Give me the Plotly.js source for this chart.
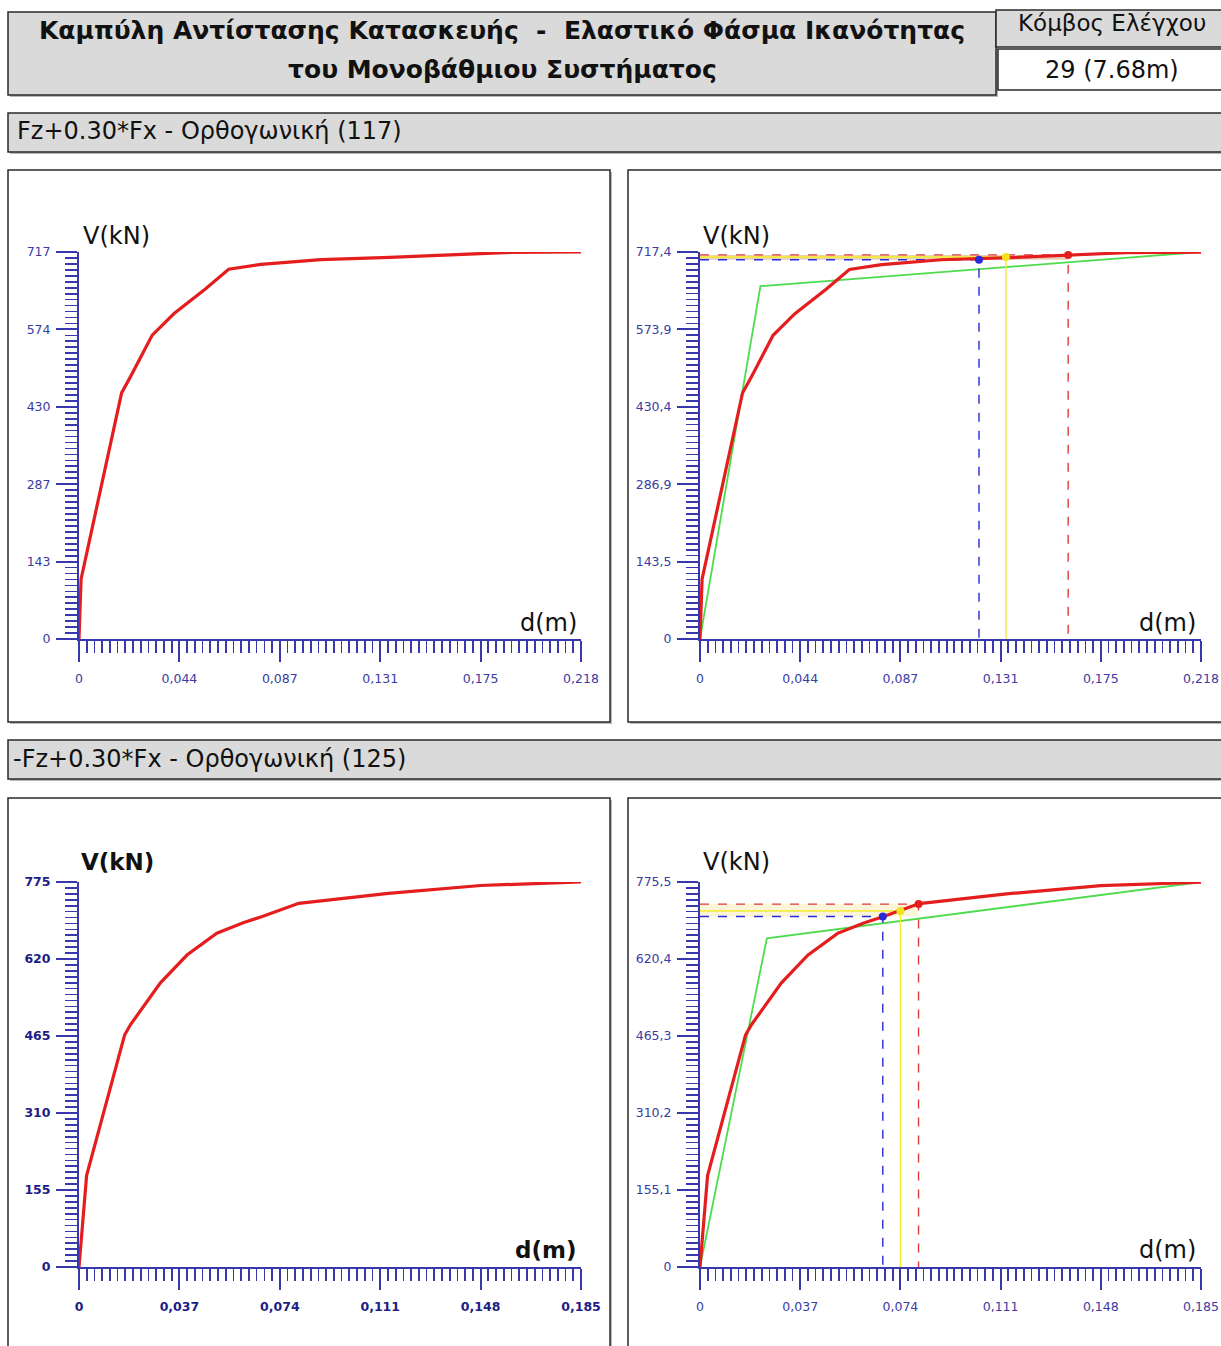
<!DOCTYPE html>
<html>
<head>
<meta charset="utf-8">
<script src="https://cdn.plot.ly/plotly-3.0.1.min.js"></script>
<style>
  html, body { margin: 0; padding: 0; background: #ffffff; }
  #chart { width: 1221px; height: 1346px; }
</style>
</head>
<body>
<div id="chart"></div>
<script>
// ---------------- DATA ----------------
// Load case 1: Fz+0.30*Fx - Ορθογωνική (117)
const capD1 = [0, 0.0009, 0.0185, 0.0225, 0.0318, 0.0413, 0.0550, 0.0650, 0.0790, 0.1050, 0.1350, 0.1600, 0.1850, 0.2180];
const capV1 = [0, 111, 456, 487, 563, 603, 649, 685, 694, 703, 707, 711, 716, 717];
const bilD1 = [0, 0.0263, 0.2180];
const bilV1 = [0, 654, 717.4];
const tgtD1 = [0.1214, 0.1331, 0.1602];   // blue, yellow, red target points
const tgtV1 = [703, 708, 712];

// Load case 2: -Fz+0.30*Fx - Ορθογωνική (125)
const capD2 = [0, 0.0028, 0.0168, 0.0190, 0.0300, 0.0398, 0.0508, 0.0605, 0.0678, 0.0810, 0.1140, 0.1480, 0.1850];
const capV2 = [0, 184, 467, 488, 572, 628, 672, 693, 706, 732, 752, 768, 775];
const bilD2 = [0, 0.0247, 0.1850];
const bilV2 = [0, 662, 775.5];
const tgtD2 = [0.0675, 0.0740, 0.0807];
const tgtV2 = [706, 717, 731];

// Axis ranges and tick labels
const xMax1 = 0.218, yMaxL1 = 717, yMaxR1 = 717.4;
const xMax2 = 0.185, yMaxL2 = 775, yMaxR2 = 775.5;
const xTickVals1 = [0, 0.0436, 0.0872, 0.1308, 0.1744, 0.218];
const xTickText1 = ["0", "0,044", "0,087", "0,131", "0,175", "0,218"];
const yTickValsL1 = [0, 143.4, 286.8, 430.2, 573.6, 717];
const yTickTextL1 = ["0", "143", "287", "430", "574", "717"];
const yTickValsR1 = [0, 143.5, 286.9, 430.4, 573.9, 717.4];
const yTickTextR1 = ["0", "143,5", "286,9", "430,4", "573,9", "717,4"];
const xTickVals2 = [0, 0.037, 0.074, 0.111, 0.148, 0.185];
const xTickText2 = ["0", "0,037", "0,074", "0,111", "0,148", "0,185"];
const yTickValsL2 = [0, 155, 310, 465, 620, 775];
const yTickTextL2 = ["0", "155", "310", "465", "620", "775"];
const yTickValsR2 = [0, 155.1, 310.2, 465.3, 620.4, 775.5];
const yTickTextR2 = ["0", "155,1", "310,2", "465,3", "620,4", "775,5"];

// Texts
const mainTitle1 = "Καμπύλη Αντίστασης Κατασκευής\u00a0\u00a0-\u00a0\u00a0Ελαστικό Φάσμα Ικανότητας";
const mainTitle2 = "του Μονοβάθμιου Συστήματος";
const nodeLabel = "Κόμβος Ελέγχου";
const nodeValue = "29 (7.68m)";
const section1 = "Fz+0.30*Fx - Ορθογωνική (117)";
const section2 = "-Fz+0.30*Fx - Ορθογωνική (125)";

// ---------------- STYLE ----------------
const W = 1221, H = 1346;
const px = v => v / W;
const py = v => 1 - v / H;
const AX = '#3838ac';
const RED = '#e41e1e', GREEN = '#4cdc4c', BLUE = '#2a2ad6', YEL = '#f2ee2a', REDL = '#e03a3a';

function axisBase(maxv, vals, text, bold, standoff) {
  return {
    range: [0, maxv], showgrid: false, zeroline: false,
    showline: true, linecolor: AX, linewidth: 2,
    ticks: 'outside', ticklen: 21, tickwidth: 2, tickcolor: AX,
    tickmode: 'array', tickvals: vals, ticktext: text,
    ticklabelstandoff: standoff,
    tickfont: { family: 'DejaVu Sans', size: 12.5, color: bold ? '#1d1d86' : '#3b3ba2', weight: bold ? 'bold' : 'normal' },
    minor: { tickmode: 'linear', tick0: 0, dtick: (vals[1] - vals[0]) / 13, ticks: 'outside', ticklen: 12, tickwidth: 1.7, tickcolor: AX, showgrid: false },
    fixedrange: true
  };
}
function xAxis(domain, anchor, maxv, vals, text, bold) {
  return Object.assign(axisBase(maxv, vals, text, bold, 6), { domain: domain, anchor: anchor });
}
function yAxis(domain, anchor, maxv, vals, text, bold) {
  return Object.assign(axisBase(maxv, vals, text, bold, 3), { domain: domain, anchor: anchor });
}

const dxL = [px(79), px(581)], dxR = [px(700), px(1201)];
const dyT = [py(639), py(252)], dyB = [py(1267), py(882)];

// ---------------- TRACES ----------------
const traces = [];
function capTrace(xa, ya, d, v) {
  return { type: 'scatter', mode: 'lines', x: d, y: v, xaxis: xa, yaxis: ya, cliponaxis: false,
           line: { color: RED, width: 3.2 }, hoverinfo: 'skip' };
}
function bilTrace(xa, ya, d, v) {
  return { type: 'scatter', mode: 'lines', x: d, y: v, xaxis: xa, yaxis: ya, cliponaxis: false,
           line: { color: GREEN, width: 1.8 }, hoverinfo: 'skip' };
}
function targets(xa, ya, d, v, bandColor) {
  const cols = [BLUE, YEL, REDL];
  const dashes = ['dash', 'solid', 'dash'];
  const out = [];
  out.push({ type: 'scatter', mode: 'lines', xaxis: xa, yaxis: ya, cliponaxis: false,
             x: [0, d[2], d[2], 0, 0], y: [v[0], v[0], v[2], v[2], v[0]],
             fill: 'toself', fillcolor: bandColor, line: { width: 0 }, hoverinfo: 'skip' });
  for (let i = 0; i < 3; i++) {
    out.push({ type: 'scatter', mode: 'lines', xaxis: xa, yaxis: ya, cliponaxis: false,
               x: [0, d[i], d[i]], y: [v[i], v[i], 0],
               line: { color: cols[i], width: 1.4, dash: dashes[i] }, hoverinfo: 'skip' });
  }
  return out;
}
function dots(xa, ya, d, v) {
  return { type: 'scatter', mode: 'markers', xaxis: xa, yaxis: ya, cliponaxis: false, x: d, y: v,
           marker: { color: [BLUE, '#f4e21c', RED], size: 8 }, hoverinfo: 'skip' };
}

traces.push(capTrace('x', 'y', capD1, capV1));
traces.push(bilTrace('x2', 'y2', bilD1, bilV1));
traces.push(...targets('x2', 'y2', tgtD1, tgtV1, 'rgba(214,170,120,0.55)'));
traces.push(capTrace('x2', 'y2', capD1, capV1));
traces.push(dots('x2', 'y2', tgtD1, tgtV1));
traces.push(capTrace('x3', 'y3', capD2, capV2));
traces.push(bilTrace('x4', 'y4', bilD2, bilV2));
traces.push(...targets('x4', 'y4', tgtD2, tgtV2, 'rgba(250,232,170,0.45)'));
traces.push(capTrace('x4', 'y4', capD2, capV2));
traces.push(dots('x4', 'y4', tgtD2, tgtV2));

// ---------------- SHAPES ----------------
function rect(x0, y0, x1, y1, fill, lw) {
  return { type: 'rect', xref: 'paper', yref: 'paper', x0: px(x0), x1: px(x1), y0: py(y1), y1: py(y0),
           fillcolor: fill, line: { color: '#2a2a2a', width: lw }, layer: 'below' };
}
function shadow(x0, y0, x1, y1) {
  return { type: 'rect', xref: 'paper', yref: 'paper', x0: px(x0 + 2), x1: px(x1 + 2), y0: py(y1 + 2), y1: py(y0 + 2),
           fillcolor: '#b8b8b8', line: { width: 0 }, layer: 'below' };
}
const shapes = [
  shadow(8, 12, 996, 95), rect(8, 12, 996, 95, '#dadada', 1.5),
  rect(996, 10, 1223, 47, '#dadada', 1.5),
  rect(998, 49, 1223, 90, '#ffffff', 1.5),
  shadow(8, 113, 1221, 152), rect(8, 113, 1223, 152, '#dadada', 1.5),
  shadow(8, 170, 610, 722), rect(8, 170, 610, 722, '#ffffff', 1.5),
  shadow(628, 170, 1221, 722), rect(628, 170, 1223, 722, '#ffffff', 1.5),
  shadow(8, 740, 1221, 779), rect(8, 740, 1223, 779, '#dadada', 1.5),
  shadow(8, 798, 610, 1360), rect(8, 798, 610, 1360, '#ffffff', 1.5),
  shadow(628, 798, 1221, 1360), rect(628, 798, 1223, 1360, '#ffffff', 1.5)
];

// ---------------- ANNOTATIONS ----------------
function txt(t, x, y, size, opts) {
  return Object.assign({ text: t, xref: 'paper', yref: 'paper', x: px(x), y: py(y), showarrow: false,
    xanchor: 'center', yanchor: 'middle',
    font: { family: 'DejaVu Sans', size: size, color: '#111111' } }, opts || {});
}
const annotations = [
  txt('<b>' + mainTitle1 + '</b>', 502, 30, 25),
  txt('<b>' + mainTitle2 + '</b>', 502, 69, 25),
  txt(nodeLabel, 1112, 23, 23),
  txt(nodeValue, 1112, 70, 24),
  txt(section1, 15, 131, 24, { xanchor: 'left' }),
  txt(section2, 11, 759, 24, { xanchor: 'left' }),
  txt('V(kN)', 81, 236, 24, { xanchor: 'left' }),
  txt('d(m)', 579, 623, 24, { xanchor: 'right' }),
  txt('V(kN)', 701, 236, 24, { xanchor: 'left' }),
  txt('d(m)', 1198, 623, 24, { xanchor: 'right' }),
  txt('<b>V(kN)</b>', 79, 862, 23, { xanchor: 'left' }),
  txt('<b>d(m)</b>', 578, 1250, 23, { xanchor: 'right' }),
  txt('V(kN)', 701, 862, 24, { xanchor: 'left' }),
  txt('d(m)', 1198, 1250, 24, { xanchor: 'right' })
];

const layout = {
  width: W, height: H, margin: { l: 0, r: 0, t: 0, b: 0 },
  paper_bgcolor: '#ffffff', plot_bgcolor: 'rgba(0,0,0,0)', showlegend: false,
  xaxis: xAxis(dxL, 'y', xMax1, xTickVals1, xTickText1, false),
  yaxis: yAxis(dyT, 'x', yMaxL1, yTickValsL1, yTickTextL1, false),
  xaxis2: xAxis(dxR, 'y2', xMax1, xTickVals1, xTickText1, false),
  yaxis2: yAxis(dyT, 'x2', yMaxR1, yTickValsR1, yTickTextR1, false),
  xaxis3: xAxis(dxL, 'y3', xMax2, xTickVals2, xTickText2, true),
  yaxis3: yAxis(dyB, 'x3', yMaxL2, yTickValsL2, yTickTextL2, true),
  xaxis4: xAxis(dxR, 'y4', xMax2, xTickVals2, xTickText2, false),
  yaxis4: yAxis(dyB, 'x4', yMaxR2, yTickValsR2, yTickTextR2, false),
  shapes: shapes,
  annotations: annotations
};

Plotly.newPlot('chart', traces, layout, { staticPlot: true, displayModeBar: false });
</script>
</body>
</html>
